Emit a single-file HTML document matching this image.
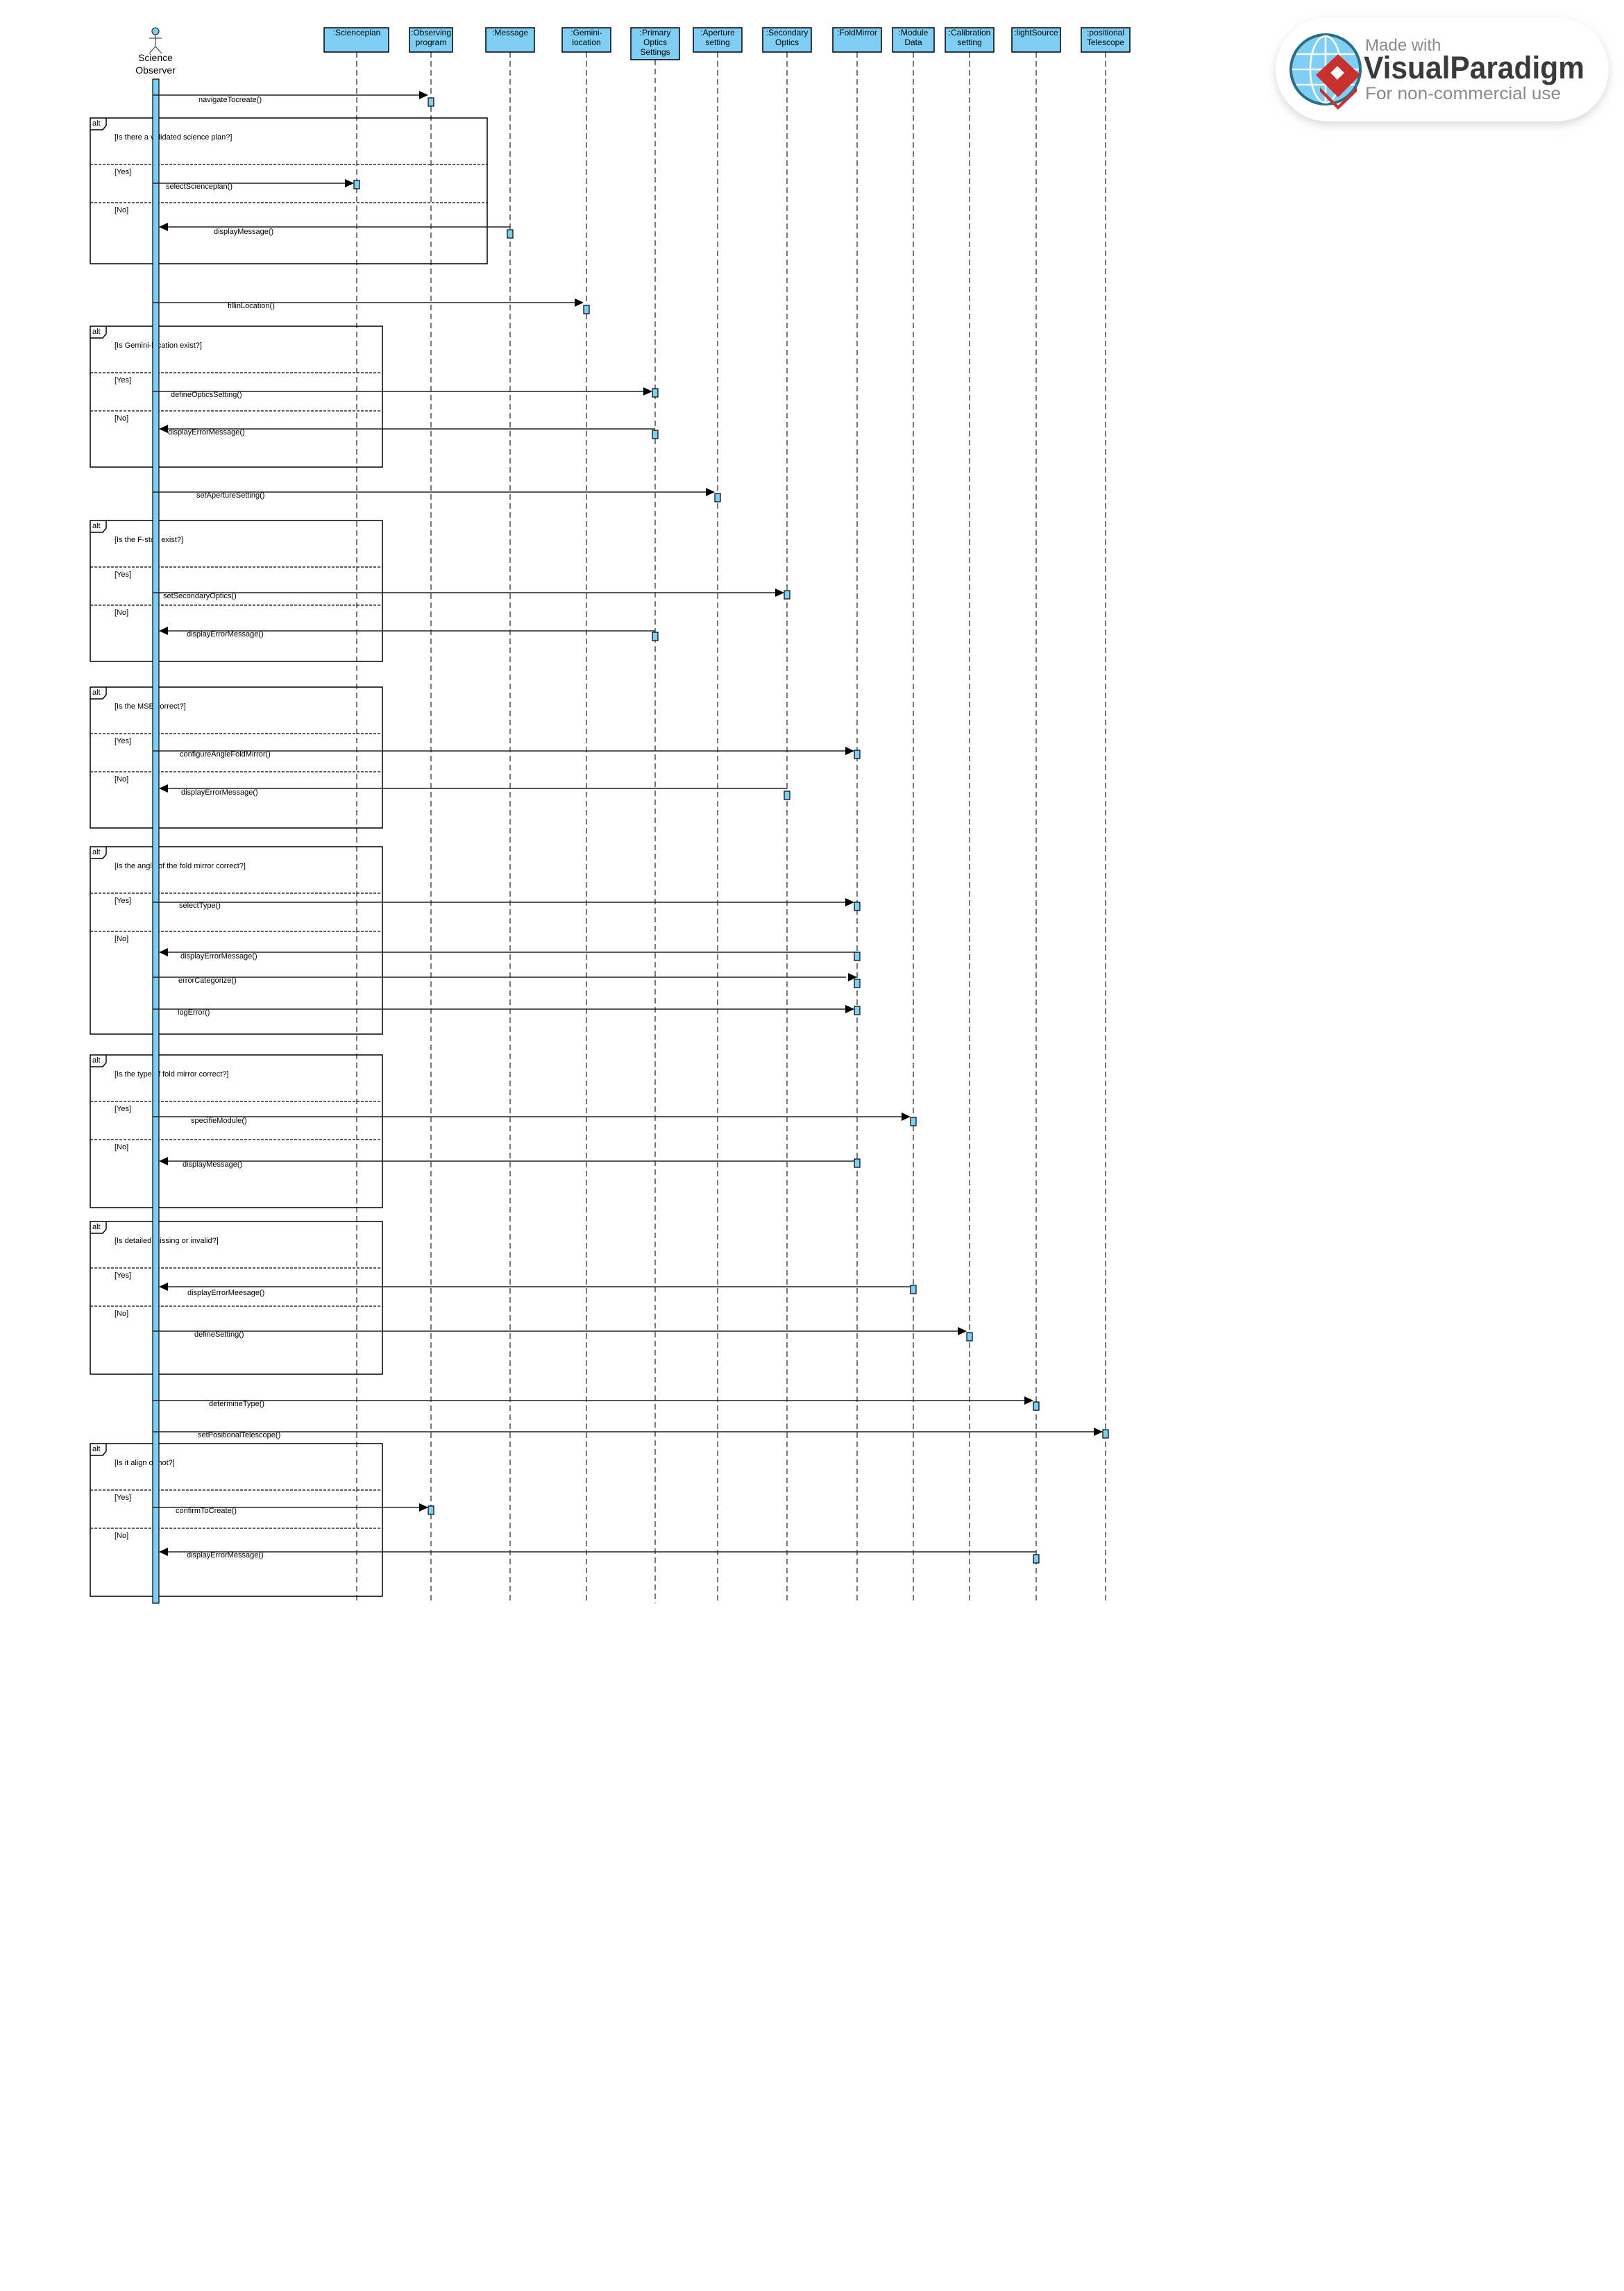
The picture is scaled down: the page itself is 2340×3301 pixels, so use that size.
<!DOCTYPE html>
<html><head><meta charset="utf-8"><style>
html,body{margin:0;padding:0;background:#fff;}
svg{display:block;}
text{font-family:"Liberation Sans",Arial,sans-serif;fill:#000;}
.hd{font-size:12px;text-anchor:middle;}
.lb{font-size:11px;}
.ll{stroke:#333;stroke-width:1.3;stroke-dasharray:8,5;fill:none;}
.box{fill:#7fcff4;stroke:#000;stroke-width:1.5;}
.act{fill:#7fcff4;stroke:#000;stroke-width:1.2;}
.fr{fill:none;stroke:#000;stroke-width:1.5;}
.dv{stroke:#000;stroke-width:1.2;stroke-dasharray:4,2;}
.msg{stroke:#222;stroke-width:1.5;}
</style></head><body>
<svg width="2340" height="3301" viewBox="0 0 2340 3301" xmlns="http://www.w3.org/2000/svg">
<rect width="2340" height="3301" fill="#fff"/>

<!-- logo -->
<defs><filter id="sh" x="-10%" y="-30%" width="120%" height="160%"><feGaussianBlur stdDeviation="6"/></filter></defs>
<rect x="1838" y="30" width="480" height="150" rx="75" fill="#d8d8d8" filter="url(#sh)"/>
<rect x="1838" y="25" width="480" height="150" rx="75" fill="#fff"/>
<circle cx="1910" cy="100" r="50" fill="#7fcff4" stroke="#2a6f86" stroke-width="4"/>
<g stroke="#fff" stroke-width="2.5" fill="none">
<ellipse cx="1910" cy="100" rx="22" ry="48"/><line x1="1910" y1="52" x2="1910" y2="148"/>
<line x1="1862" y1="100" x2="1958" y2="100"/><line x1="1868" y1="78" x2="1952" y2="78"/><line x1="1868" y1="122" x2="1952" y2="122"/></g>
<polygon points="1928,78 1960,108 1928,140 1896,108" fill="#c8302e"/>
<polygon points="1902,126 1928,152 1955,126 1955,132 1928,158 1902,132" fill="#c8302e"/>
<rect x="1920" y="98" width="14" height="14" fill="#fff" transform="rotate(45 1927 105)"/>
<text x="1967" y="73" style="font-size:24px;fill:#8a8a8a">Made with</text>
<text x="1965" y="113" style="font-size:45px;font-weight:bold;fill:#3a3a3a" textLength="318" lengthAdjust="spacingAndGlyphs">VisualParadigm</text>
<text x="1967" y="143" style="font-size:25px;fill:#8a8a8a" textLength="282" lengthAdjust="spacingAndGlyphs">For non-commercial use</text>

<!-- actor -->
<circle cx="224" cy="45" r="5" fill="#7fcff4" stroke="#333" stroke-width="1.2"/>
<g stroke="#555" stroke-width="1.3"><line x1="224" y1="50" x2="224" y2="67"/><line x1="215" y1="55" x2="233" y2="55"/><line x1="224" y1="67" x2="215" y2="77"/><line x1="224" y1="67" x2="233" y2="77"/></g>
<text x="224" y="88" style="font-size:14px;text-anchor:middle">Science</text>
<text x="224" y="106" style="font-size:14px;text-anchor:middle">Observer</text>

<!-- lifelines -->
<g class="ll">
<line x1="514" y1="75" x2="514" y2="2310"/>
<line x1="621" y1="75" x2="621" y2="2310"/>
<line x1="735" y1="75" x2="735" y2="2310"/>
<line x1="845" y1="75" x2="845" y2="2310"/>
<line x1="944" y1="86" x2="944" y2="2310"/>
<line x1="1034" y1="75" x2="1034" y2="2310"/>
<line x1="1134" y1="75" x2="1134" y2="2310"/>
<line x1="1235" y1="75" x2="1235" y2="2310"/>
<line x1="1316" y1="75" x2="1316" y2="2310"/>
<line x1="1397" y1="75" x2="1397" y2="2310"/>
<line x1="1493" y1="75" x2="1493" y2="2310"/>
<line x1="1593" y1="75" x2="1593" y2="2310"/>
</g>

<!-- headers -->
<rect class="box" x="467" y="40" width="93" height="35"/><text class="hd" x="514" y="51">:Scienceplan</text>
<rect class="box" x="590" y="40" width="62" height="35"/><text class="hd" x="621" y="51">:Observing</text><text class="hd" x="621" y="65">program</text>
<rect class="box" x="700" y="40" width="70" height="35"/><text class="hd" x="735" y="51">:Message</text>
<rect class="box" x="810" y="40" width="70" height="35"/><text class="hd" x="845" y="51">:Gemini-</text><text class="hd" x="845" y="65">location</text>
<rect class="box" x="909" y="40" width="70" height="46"/><text class="hd" x="944" y="51">:Primary</text><text class="hd" x="944" y="65">Optics</text><text class="hd" x="944" y="79">Settings</text>
<rect class="box" x="999" y="40" width="70" height="35"/><text class="hd" x="1034" y="51">:Aperture</text><text class="hd" x="1034" y="65">setting</text>
<rect class="box" x="1099" y="40" width="70" height="35"/><text class="hd" x="1134" y="51">:Secondary</text><text class="hd" x="1134" y="65">Optics</text>
<rect class="box" x="1200" y="40" width="70" height="35"/><text class="hd" x="1235" y="51">:FoldMirror</text>
<rect class="box" x="1286" y="40" width="60" height="35"/><text class="hd" x="1316" y="51">:Module</text><text class="hd" x="1316" y="65">Data</text>
<rect class="box" x="1362" y="40" width="70" height="35"/><text class="hd" x="1397" y="51">:Calibration</text><text class="hd" x="1397" y="65">setting</text>
<rect class="box" x="1458" y="40" width="70" height="35"/><text class="hd" x="1493" y="51">:lightSource</text>
<rect class="box" x="1558" y="40" width="70" height="35"/><text class="hd" x="1593" y="51">:positional</text><text class="hd" x="1593" y="65">Telescope</text>

<!-- frames -->
<g>
<rect class="fr" x="130" y="170" width="572" height="210"/>
<path class="fr" d="M130,187 H148 L153,181 V170"/><text class="lb" x="133" y="181">alt</text>
<text class="lb" x="165" y="201">[Is there a validated science plan?]</text>
<line class="dv" x1="130" y1="237" x2="702" y2="237"/><text class="lb" x="165" y="251">[Yes]</text>
<line class="dv" x1="130" y1="292" x2="702" y2="292"/><text class="lb" x="165" y="306">[No]</text>
</g>
<g>
<rect class="fr" x="130" y="470" width="421" height="203"/>
<path class="fr" d="M130,487 H148 L153,481 V470"/><text class="lb" x="133" y="481">alt</text>
<text class="lb" x="165" y="501">[Is Gemini-location exist?]</text>
<line class="dv" x1="130" y1="537" x2="551" y2="537"/><text class="lb" x="165" y="551">[Yes]</text>
<line class="dv" x1="130" y1="592" x2="551" y2="592"/><text class="lb" x="165" y="606">[No]</text>
</g>
<g>
<rect class="fr" x="130" y="750" width="421" height="203"/>
<path class="fr" d="M130,767 H148 L153,761 V750"/><text class="lb" x="133" y="761">alt</text>
<text class="lb" x="165" y="781">[Is the F-stop exist?]</text>
<line class="dv" x1="130" y1="817" x2="551" y2="817"/><text class="lb" x="165" y="831">[Yes]</text>
<line class="dv" x1="130" y1="872" x2="551" y2="872"/><text class="lb" x="165" y="886">[No]</text>
</g>
<g>
<rect class="fr" x="130" y="990" width="421" height="203"/>
<path class="fr" d="M130,1007 H148 L153,1001 V990"/><text class="lb" x="133" y="1001">alt</text>
<text class="lb" x="165" y="1021">[Is the MSE correct?]</text>
<line class="dv" x1="130" y1="1057" x2="551" y2="1057"/><text class="lb" x="165" y="1071">[Yes]</text>
<line class="dv" x1="130" y1="1112" x2="551" y2="1112"/><text class="lb" x="165" y="1126">[No]</text>
</g>
<g>
<rect class="fr" x="130" y="1220" width="421" height="270"/>
<path class="fr" d="M130,1237 H148 L153,1231 V1220"/><text class="lb" x="133" y="1231">alt</text>
<text class="lb" x="165" y="1251">[Is the angle of the fold mirror correct?]</text>
<line class="dv" x1="130" y1="1287" x2="551" y2="1287"/><text class="lb" x="165" y="1301">[Yes]</text>
<line class="dv" x1="130" y1="1342" x2="551" y2="1342"/><text class="lb" x="165" y="1356">[No]</text>
</g>
<g>
<rect class="fr" x="130" y="1520" width="421" height="220"/>
<path class="fr" d="M130,1537 H148 L153,1531 V1520"/><text class="lb" x="133" y="1531">alt</text>
<text class="lb" x="165" y="1551">[Is the type of fold mirror correct?]</text>
<line class="dv" x1="130" y1="1587" x2="551" y2="1587"/><text class="lb" x="165" y="1601">[Yes]</text>
<line class="dv" x1="130" y1="1642" x2="551" y2="1642"/><text class="lb" x="165" y="1656">[No]</text>
</g>
<g>
<rect class="fr" x="130" y="1760" width="421" height="220"/>
<path class="fr" d="M130,1777 H148 L153,1771 V1760"/><text class="lb" x="133" y="1771">alt</text>
<text class="lb" x="165" y="1791">[Is detailed missing or invalid?]</text>
<line class="dv" x1="130" y1="1827" x2="551" y2="1827"/><text class="lb" x="165" y="1841">[Yes]</text>
<line class="dv" x1="130" y1="1882" x2="551" y2="1882"/><text class="lb" x="165" y="1896">[No]</text>
</g>
<g>
<rect class="fr" x="130" y="2080" width="421" height="220"/>
<path class="fr" d="M130,2097 H148 L153,2091 V2080"/><text class="lb" x="133" y="2091">alt</text>
<text class="lb" x="165" y="2111">[Is it align or not?]</text>
<line class="dv" x1="130" y1="2147" x2="551" y2="2147"/><text class="lb" x="165" y="2161">[Yes]</text>
<line class="dv" x1="130" y1="2202" x2="551" y2="2202"/><text class="lb" x="165" y="2216">[No]</text>
</g>

<!-- actor bar -->
<rect class="act" x="220" y="114" width="9" height="2196"/>

<!-- forward messages: line from 220 to tip (lifeline-4), arrowhead -->
<g class="msg">
<line x1="220" y1="137" x2="605" y2="137"/>
<line x1="220" y1="264" x2="498" y2="264"/>
<line x1="220" y1="436" x2="829" y2="436"/>
<line x1="220" y1="564" x2="928" y2="564"/>
<line x1="220" y1="709" x2="1018" y2="709"/>
<line x1="220" y1="854" x2="1118" y2="854"/>
<line x1="220" y1="1082" x2="1219" y2="1082"/>
<line x1="220" y1="1300" x2="1219" y2="1300"/>
<line x1="220" y1="1408" x2="1219" y2="1408"/>
<line x1="220" y1="1454" x2="1219" y2="1454"/>
<line x1="220" y1="1609" x2="1300" y2="1609"/>
<line x1="220" y1="1918" x2="1381" y2="1918"/>
<line x1="220" y1="2018" x2="1477" y2="2018"/>
<line x1="220" y1="2063" x2="1577" y2="2063"/>
<line x1="220" y1="2172" x2="605" y2="2172"/>
<!-- returns -->
<line x1="735" y1="327" x2="240" y2="327"/>
<line x1="944" y1="618" x2="240" y2="618"/>
<line x1="944" y1="909" x2="240" y2="909"/>
<line x1="1134" y1="1136" x2="240" y2="1136"/>
<line x1="1235" y1="1372" x2="240" y2="1372"/>
<line x1="1235" y1="1673" x2="240" y2="1673"/>
<line x1="1316" y1="1854" x2="240" y2="1854"/>
<line x1="1493" y1="2236" x2="240" y2="2236"/>
</g>
<g fill="#000">
<polygon points="604,131 617,137 604,143"/>
<polygon points="497,258 510,264 497,270"/>
<polygon points="828,430 841,436 828,442"/>
<polygon points="927,558 940,564 927,570"/>
<polygon points="1017,703 1030,709 1017,715"/>
<polygon points="1117,848 1130,854 1117,860"/>
<polygon points="1218,1076 1231,1082 1218,1088"/>
<polygon points="1218,1294 1231,1300 1218,1306"/>
<polygon points="1222,1402 1235,1408 1222,1414"/>
<polygon points="1218,1448 1231,1454 1218,1460"/>
<polygon points="1299,1603 1312,1609 1299,1615"/>
<polygon points="1380,1912 1393,1918 1380,1924"/>
<polygon points="1476,2012 1489,2018 1476,2024"/>
<polygon points="1576,2057 1589,2063 1576,2069"/>
<polygon points="604,2166 617,2172 604,2178"/>
<polygon points="242,321 229,327 242,333"/>
<polygon points="242,612 229,618 242,624"/>
<polygon points="242,903 229,909 242,915"/>
<polygon points="242,1130 229,1136 242,1142"/>
<polygon points="242,1366 229,1372 242,1378"/>
<polygon points="242,1667 229,1673 242,1679"/>
<polygon points="242,1848 229,1854 242,1860"/>
<polygon points="242,2230 229,2236 242,2242"/>
</g>

<!-- activations -->
<rect class="act" x="617" y="141" width="8" height="12"/>
<rect class="act" x="510" y="260" width="8" height="12"/>
<rect class="act" x="731" y="331" width="8" height="12"/>
<rect class="act" x="841" y="440" width="8" height="12"/>
<rect class="act" x="940" y="560" width="8" height="12"/>
<rect class="act" x="940" y="620" width="8" height="12"/>
<rect class="act" x="1030" y="711" width="8" height="12"/>
<rect class="act" x="1130" y="851" width="8" height="12"/>
<rect class="act" x="940" y="911" width="8" height="12"/>
<rect class="act" x="1231" y="1081" width="8" height="12"/>
<rect class="act" x="1130" y="1140" width="8" height="12"/>
<rect class="act" x="1231" y="1300" width="8" height="12"/>
<rect class="act" x="1231" y="1372" width="8" height="12"/>
<rect class="act" x="1231" y="1411" width="8" height="12"/>
<rect class="act" x="1231" y="1450" width="8" height="12"/>
<rect class="act" x="1312" y="1610" width="8" height="12"/>
<rect class="act" x="1231" y="1670" width="8" height="12"/>
<rect class="act" x="1312" y="1852" width="8" height="12"/>
<rect class="act" x="1393" y="1920" width="8" height="12"/>
<rect class="act" x="1489" y="2020" width="8" height="12"/>
<rect class="act" x="1589" y="2060" width="8" height="12"/>
<rect class="act" x="617" y="2170" width="8" height="12"/>
<rect class="act" x="1489" y="2240" width="8" height="12"/>

<!-- labels -->
<g class="lb" style="font-size:11px">
<text x="286" y="147">navigateTocreate()</text>
<text x="239" y="272">selectScienceplan()</text>
<text x="308" y="337">displayMessage()</text>
<text x="328" y="444">fillinLocation()</text>
<text x="246" y="572">defineOpticsSetting()</text>
<text x="242" y="626">displayErrorMessage()</text>
<text x="283" y="717">setApertureSetting()</text>
<text x="235" y="862">setSecondaryOptics()</text>
<text x="269" y="917">displayErrorMessage()</text>
<text x="259" y="1090">configureAngleFoldMirror()</text>
<text x="261" y="1145">displayErrorMessage()</text>
<text x="258" y="1308">selectType()</text>
<text x="260" y="1381">displayErrorMessage()</text>
<text x="257" y="1416">errorCategorize()</text>
<text x="256" y="1462">logError()</text>
<text x="275" y="1618">specifieModule()</text>
<text x="263" y="1681">displayMessage()</text>
<text x="270" y="1866">displayErrorMeesage()</text>
<text x="280" y="1926">defineSetting()</text>
<text x="301" y="2026">determineType()</text>
<text x="285" y="2071">setPositionalTelescope()</text>
<text x="253" y="2180">confirmToCreate()</text>
<text x="269" y="2244">displayErrorMessage()</text>
</g>
</svg>
</body></html>
